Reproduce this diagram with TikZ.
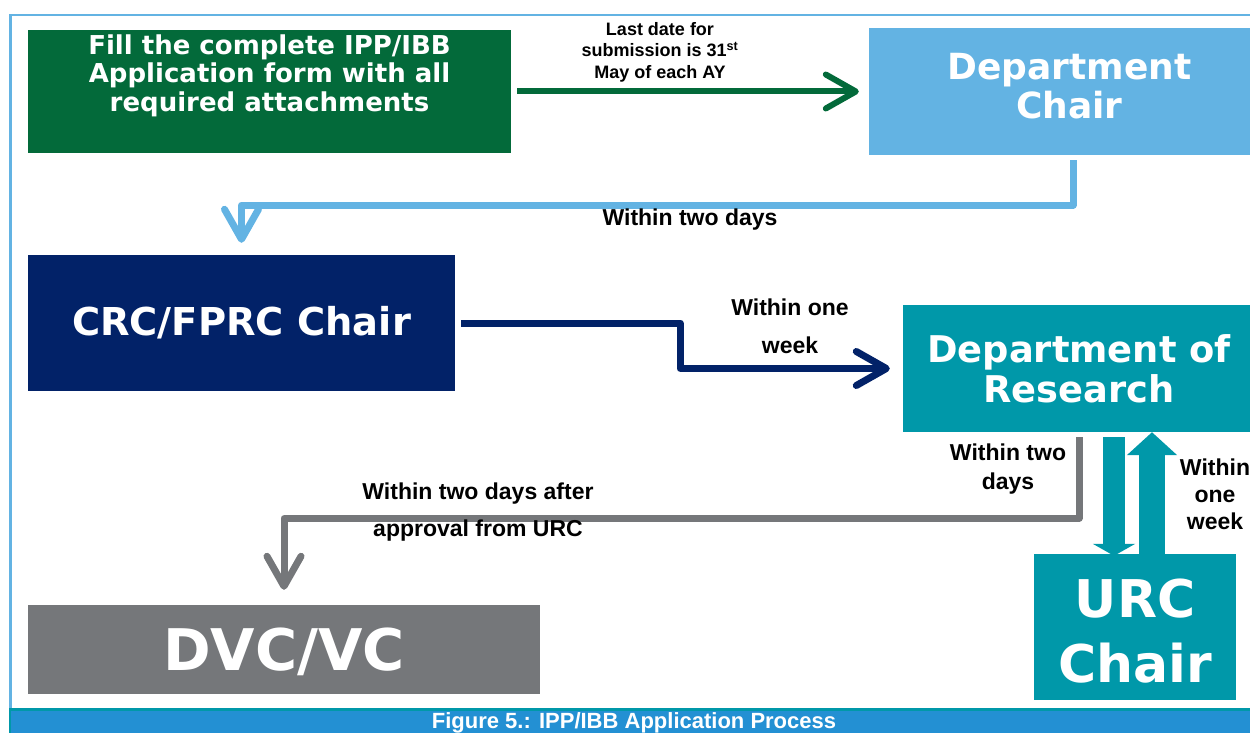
\documentclass[tikz,border=0pt]{standalone}
\usepackage{fontspec}
\setmainfont{Liberation Sans}
\newfontfamily\boxfont{DejaVu Sans}
\usetikzlibrary{arrows.meta}

\definecolor{ippgreen}{RGB}{3,106,58}
\definecolor{ippblue}{RGB}{99,179,227}
\definecolor{ippnavy}{RGB}{2,34,104}
\definecolor{ippteal}{RGB}{0,152,169}
\definecolor{ippgray}{RGB}{117,119,122}
\definecolor{capblue}{RGB}{35,144,211}

\tikzset{
  stagebox/.style={fill=#1, inner sep=0pt},
  stagetext/.style={text=white, inner sep=0pt, align=center},
  steplbl/.style={align=center, inner sep=0pt, font=\bfseries\fontsize{23}{#1}\selectfont},
  flowline/.style={draw=#1, line width=7pt, line join=round,
    -{Straight Barb[length=30pt, width=34pt, round]}}
}

\begin{document}
\begin{tikzpicture}[x=1pt, y=-1pt]
    \useasboundingbox (0,0) rectangle (1250,733);

    % Frame
    \draw[ippblue, line width=2.5pt] (1250,15) -- (10.5,15) -- (10.5,708);

    % Stages
    \node[stagebox=ippgreen, minimum width=483, minimum height=123] (form) at (269.5,91.5) {};
    \node[stagetext, font=\boxfont\bfseries\fontsize{26}{28.5}\selectfont] (formtext) at ([yshift=16pt]form.center)
      {Fill the complete IPP/IBB\\Application form with all\\required attachments};
    \node[stagebox=ippblue, minimum width=401, minimum height=127] (chair) at (1069.5,91.5) {};
    \node[stagetext, font=\boxfont\bfseries\fontsize{36}{39}\selectfont] (chairtext) at ([yshift=5pt]chair.center)
      {Department\\Chair};
    \node[stagebox=ippnavy, minimum width=427, minimum height=136] (crc) at (241.5,323) {};
    \node[stagetext, font=\boxfont\bfseries\fontsize{38.4}{40}\selectfont] (crctext) at (crc.center)
      {CRC/FPRC Chair};
    \node[stagebox=ippteal, minimum width=352, minimum height=127] (dor) at (1079,368.5) {};
    \node[stagetext, font=\boxfont\bfseries\fontsize{36.8}{40}\selectfont] (dortext) at (dor.center)
      {Department of\\Research};
    \node[stagebox=ippteal, minimum width=202, minimum height=146] (urc) at (1135,627) {};
    \node[stagetext, font=\boxfont\bfseries\fontsize{52}{65}\selectfont] (urctext) at ([yshift=-4pt]urc.center)
      {URC\\Chair};
    \node[stagebox=ippgray, minimum width=512, minimum height=89] (dvc) at (284,649.5) {};
    \node[stagetext, font=\boxfont\bfseries\fontsize{57.4}{60}\selectfont] (dvctext) at ([yshift=-2pt]dvc.center)
      {DVC/VC};

    % Flow
    \draw[flowline=ippgreen, line width=6pt, shorten <=6pt, shorten >=10pt] (form.east) -- (chair.west);
    \draw[flowline=ippblue, shorten <=5pt, shorten >=12pt] ([xshift=3.5pt]chair.south) -- ++(0,50) -| (crc.north);
    \draw[flowline=ippnavy, shorten <=6pt, shorten >=13pt] (crc.east) -- ++(225,0) |- (dor.west);
    \draw[flowline=ippgray, shorten <=5pt, shorten >=15pt] (dor.south) -- ++(0,86) -| (dvc.north);

    % URC loop
    \coordinate (dn) at ([xshift=-21pt]urc.north);
    \coordinate (up) at ([xshift=17pt]urc.north);
    \draw[ippteal, line width=22pt, -{Triangle[width=42pt, length=12pt]}, shorten <=5pt] (dn |- dor.south) -- ([yshift=-2pt]dn);
    \draw[ippteal, line width=26pt, -{Triangle[width=49pt, length=23pt]}] (up) -- (up |- dor.south);

    % Labels
    \node[align=center, inner sep=0pt, font=\bfseries\fontsize{18}{21.5}\selectfont] (datelbl) at (660,52)
      {Last date for\\submission is 31\textsuperscript{st}\\May of each AY};
    \node[steplbl=28] (twodays) at (690,220) {Within two days};
    \node[steplbl=38] (oneweek) at (790,326) {Within one\\week};
    \node[steplbl=29] (dortwo) at (1008,469.5) {Within two\\days};
    \node[steplbl=27] (urcweek) at (1215,494) {Within\\one\\week};
    \node[steplbl=37] (afterurc) at (478,512.5) {Within two days after\\approval from URC};

    % Caption
    \fill[ippteal] (9,708) rectangle (1250,733);
    \fill[capblue] (11,711) rectangle (1250,733);
    \node[text=white, inner sep=0pt, font=\bfseries\fontsize{22}{24}\selectfont] (caption) at (634,723)
      {Figure 5.: IPP/IBB Application Process};
\end{tikzpicture}
\end{document}
